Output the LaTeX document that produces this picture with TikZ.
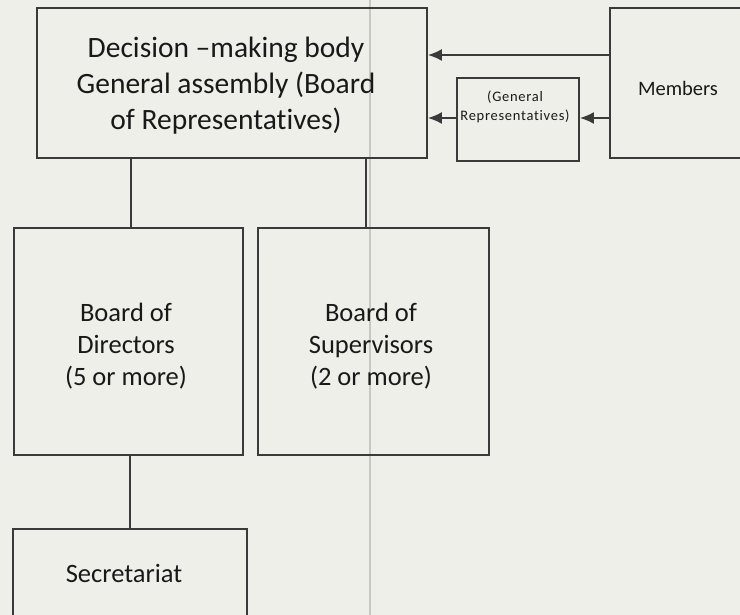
\documentclass[tikz,border=0pt]{standalone}
\usepackage{fontspec}
\setmainfont{Carlito}[Ligatures=NoCommon]
\newfontfamily\tinyfont{Carlito}[LetterSpace=5,Ligatures=NoCommon]
\usetikzlibrary{arrows.meta}
\definecolor{paper}{HTML}{EFEFE9}
\definecolor{ink}{HTML}{3A3A3A}
\definecolor{fold}{HTML}{C8C8C2}
\begin{document}
\begin{tikzpicture}[x=1pt,y=-1pt,
  box/.style={draw=ink, line width=1.8pt, fill=none, inner sep=0pt},
  label/.style={align=center, text=black!90},
  link/.style={draw=ink, line width=1.8pt},
  arr/.style={draw=ink, line width=1.8pt, -{Latex[length=14pt,width=12pt]}},
  bigtext/.style={font=\fontsize{29.5}{36}\selectfont},
  midtext/.style={font=\fontsize{26.5}{32}\selectfont},
]
% page and background
\useasboundingbox (0,0) rectangle (740,615);
\fill[paper] (0,0) rectangle (740,615);
\clip (0,0) rectangle (740,615);
% faint vertical crease running down the sheet
\draw[fold, line width=1.5pt] (370,0) -- (370,615);

% boxes
\node[box, minimum width=390pt, minimum height=150pt] (assembly) at (232,83) {};
\node[label, bigtext] (assemblytext) at (226,86)
  {Decision --making body\\General assembly (Board\\of Representatives)};
\node[box, minimum width=136pt, minimum height=150pt] (members) at (678,83) {};
\node[label, font=\fontsize{20.5}{24}\selectfont] (memberstext) at (678,88) {Members};
\node[box, minimum width=122pt, minimum height=83pt] (genrep) at (518,119.5) {};
\node[label, font=\tinyfont\fontsize{14.5}{19}\selectfont] (genreptext) at (515,107)
  {(General\\Representatives)};
\node[box, minimum width=229pt, minimum height=227pt] (directors) at (128.5,341.5) {};
\node[label, midtext] (directorstext) at (126,346)
  {Board of\\Directors\\(5 or more)};
\node[box, minimum width=231pt, minimum height=227pt] (supervisors) at (373.5,341.5) {};
\node[label, midtext] (supervisorstext) at (371,346)
  {Board of\\Supervisors\\(2 or more)};
\node[box, minimum width=234pt, minimum height=88pt] (secretariat) at (130,573) {};
\node[label, midtext] (secretariattext) at (124,573) {Secretariat};

% flows from the members
\draw[arr] (members.west |- 0,55) -- (assembly.east |- 0,55);
\draw[arr] (members.west |- 0,118) -- (genrep.east |- 0,118);
\draw[arr] (genrep.west |- 0,118) -- (assembly.east |- 0,118);

% reporting lines
\draw[link] (assembly.south -| 131,0) -- (directors.north -| 131,0);
\draw[link] (assembly.south -| 366,0) -- (supervisors.north -| 366,0);
\draw[link] (directors.south -| 130,0) -- (secretariat.north -| 130,0);
\end{tikzpicture}
\end{document}
